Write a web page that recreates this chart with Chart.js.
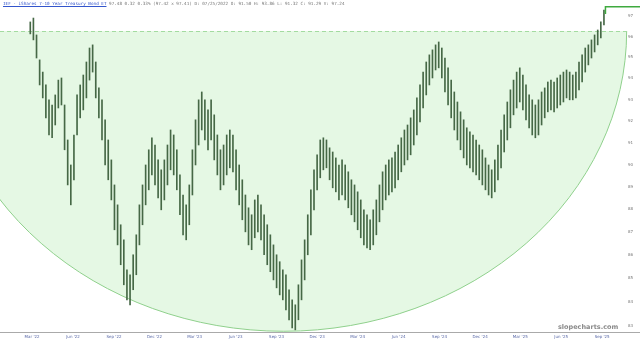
<!DOCTYPE html>
<html>
<head>
<meta charset="utf-8">
<script src="https://cdn.jsdelivr.net/npm/chart.js@4.4.1/dist/chart.umd.min.js"></script>
<style>
  html, body { margin: 0; padding: 0; background: #fff; }
  #wrap { position: relative; width: 640px; height: 343px; }
  #title { position: absolute; left: 3px; top: 1px; font: 4.3px 'DejaVu Sans Mono', monospace; color: #777; white-space: pre; }
  #title span { color: #3355cc; text-decoration: underline; }
  #wm { position: absolute; left: 558px; top: 323px; font: bold 6.5px 'DejaVu Sans', sans-serif; color: #8a8a8a; }
</style>
</head>
<body>
<div id="wrap">
  <canvas id="c" width="640" height="343"></canvas>
  <div id="title"><span>IEF - iShares 7-10 Year Treasury Bond ET</span> 97.48 0.32 0.33% (97.42 x 97.41) D: 07/25/2022 O: 91.50 H: 93.86 L: 91.32 C: 91.29 V: 97.24</div>
  <div id="wm">slopecharts.com</div>
</div>
<script>
const DAY = 86400000;
const ORIGIN = Date.UTC(2022, 2, 1);
const FIRST_WEEK = Date.UTC(2022, 1, 25);

// weekly high / low
const highs = [
  96.71,96.90,96.08,94.88,94.30,93.69,92.99,92.75,93.22,93.92,
  94.02,92.75,91.13,89.99,91.36,93.22,93.69,94.16,94.78,95.45,
  95.60,94.78,93.55,92.99,92.06,91.13,90.22,89.09,88.20,87.32,
  86.66,85.36,85.15,86.01,86.88,88.20,89.09,89.99,90.68,91.23,
  90.90,90.22,89.77,90.22,90.90,91.59,91.36,90.68,89.54,88.64,
  88.20,89.09,90.68,92.06,92.99,93.36,92.99,92.52,92.99,92.29,
  91.36,90.68,90.90,91.36,91.59,91.36,90.68,89.99,89.32,88.64,
  88.07,87.76,88.42,88.64,88.20,87.76,87.32,86.88,86.44,86.01,
  85.71,85.36,85.15,84.51,84.08,83.87,84.72,85.79,86.66,87.76,
  88.87,89.77,90.45,91.13,91.23,91.13,90.77,90.58,90.31,89.99,
  90.22,89.99,89.68,89.32,89.09,88.78,88.42,87.98,87.76,87.54,
  87.98,88.42,89.09,89.68,89.99,90.22,90.31,90.58,90.90,91.23,
  91.59,91.82,92.15,92.52,93.08,93.69,94.30,94.78,95.12,95.36,
  95.60,95.74,95.45,94.97,94.50,93.92,93.36,92.89,92.43,92.06,
  91.69,91.50,91.36,91.13,90.90,90.68,90.31,89.99,89.77,90.22,
  90.90,91.59,92.29,92.89,93.46,93.92,94.30,94.50,94.16,93.69,
  93.22,92.99,92.75,92.99,93.36,93.55,93.83,93.92,93.83,94.02,
  94.16,94.30,94.40,94.30,94.16,94.30,94.78,95.12,95.45,95.60,
  95.84,96.08,96.32,96.71,97.29
];
const lows = [
  96.13,95.84,94.97,93.69,93.08,92.15,91.36,91.23,91.82,92.61,
  92.75,90.68,89.09,88.20,89.32,91.36,92.15,92.52,93.08,93.92,
  94.30,93.08,92.15,91.13,89.99,89.32,88.42,87.10,86.44,85.58,
  84.72,84.08,83.87,84.51,85.15,86.44,87.32,88.20,88.87,89.54,
  89.09,88.51,87.98,88.42,89.09,89.77,89.54,88.87,87.76,86.88,
  86.66,87.32,88.64,89.99,90.90,91.59,91.13,90.68,91.13,90.22,
  89.54,88.87,89.09,89.54,89.86,89.68,88.87,88.20,87.54,87.01,
  86.44,86.23,86.75,87.01,86.66,86.01,85.58,85.28,84.93,84.59,
  84.29,84.08,83.66,83.24,82.90,82.82,83.24,84.08,84.93,86.01,
  86.88,87.98,88.87,89.41,89.77,89.86,89.32,88.96,88.78,88.42,
  88.64,88.42,88.07,87.76,87.45,87.10,86.75,86.44,86.31,86.23,
  86.44,86.88,87.45,87.98,88.42,88.64,88.78,88.96,89.32,89.68,
  89.99,90.22,90.45,90.90,91.36,91.96,92.61,93.22,93.69,94.02,
  94.40,94.50,94.02,93.36,92.75,92.15,91.59,91.13,90.68,90.31,
  89.99,89.86,89.68,89.54,89.32,89.09,88.87,88.64,88.51,88.78,
  89.32,89.86,90.58,91.13,91.69,92.29,92.61,92.89,92.52,92.06,
  91.69,91.36,91.23,91.36,91.82,92.15,92.43,92.52,92.43,92.61,
  92.75,92.89,93.08,92.99,92.99,93.08,93.46,93.83,94.30,94.64,
  94.97,95.26,95.60,95.93,96.56
];

const tickDates  = ['2022-03-01','2022-06-01','2022-09-01','2022-12-01','2023-03-01','2023-06-01','2023-09-01','2023-12-01',
                    '2024-03-01','2024-06-01','2024-09-01','2024-12-01','2025-03-01','2025-06-01','2025-09-01'];
const tickLabels = ["Mar '22","Jun '22","Sep '22","Dec '22","Mar '23","Jun '23","Sep '23","Dec '23",
                    "Mar '24","Jun '24","Sep '24","Dec '24","Mar '25","Jun '25","Sep '25"];
const priceTicks = [83,84,85,86,87,88,89,90,91,92,93,94,95,96,97];

// cup drawn on the chart: flat top at the old high, bowl down to the 2023 low
const cupTop = 96.27;
const cupBottom = 82.76;
const cupCenter = '2023-09-17';
const cupHalfDays = 770;
const lastPrice = 97.45;

const dayOf = s => (Date.parse(s + 'T00:00:00Z') - ORIGIN) / DAY;
const weekX = highs.map((_, i) => (FIRST_WEEK + i * 7 * DAY - ORIGIN) / DAY);
const tickX = tickDates.map(dayOf);

const cupPlugin = {
  id: 'cup',
  beforeDatasetsDraw(chart) {
    const { ctx, chartArea: a, scales: { x, y } } = chart;
    const cx = x.getPixelForValue(dayOf(cupCenter));
    const rx = x.getPixelForValue(dayOf(cupCenter) + cupHalfDays) - cx;
    const cy = y.getPixelForValue(cupTop);
    const ry = y.getPixelForValue(cupBottom) - cy;
    ctx.save();
    ctx.beginPath(); ctx.rect(a.left, a.top, a.right - a.left, a.bottom - a.top); ctx.clip();
    ctx.beginPath();
    ctx.ellipse(cx, cy, rx, ry, 0, 0, Math.PI);
    ctx.closePath();
    ctx.fillStyle = '#e5f8e4';
    ctx.fill();
    ctx.beginPath();
    ctx.ellipse(cx, cy, rx, ry, 0, 0, Math.PI);
    ctx.strokeStyle = '#8fd08c'; ctx.lineWidth = 1;
    ctx.stroke();
    ctx.setLineDash([4, 3]);
    ctx.strokeStyle = '#a3dba0';
    ctx.beginPath(); ctx.moveTo(a.left, Math.round(cy) + 0.5); ctx.lineTo(cx + rx, Math.round(cy) + 0.5); ctx.stroke();
    ctx.restore();
  },
  afterDraw(chart) {
    const { ctx, scales: { x, y } } = chart;
    const lx = x.getPixelForValue(weekX[weekX.length - 1]) + 1.5;
    const ly = y.getPixelForValue(lastPrice);
    const hy = y.getPixelForValue(highs[highs.length - 1]);
    ctx.save();
    ctx.strokeStyle = '#3faa3f'; ctx.lineWidth = 1.5;
    ctx.beginPath(); ctx.moveTo(lx, hy + 4); ctx.lineTo(lx, ly); ctx.lineTo(chart.width, ly); ctx.stroke();
    ctx.strokeStyle = '#aaaaaa'; ctx.lineWidth = 1;
    const by = Math.round(chart.chartArea.bottom) + 0.5;
    ctx.beginPath(); ctx.moveTo(0, by); ctx.lineTo(chart.width, by); ctx.stroke();
    ctx.restore();
  }
};

new Chart(document.getElementById('c'), {
  type: 'bar',
  data: {
    datasets: [{
      label: 'IEF',
      data: highs.map((h, i) => ({ x: weekX[i], y: [lows[i], h] })),
      backgroundColor: '#466846',
      barThickness: 1,
      grouped: false
    }]
  },
  options: {
    responsive: false,
    animation: false,
    layout: { padding: 0 },
    plugins: { legend: { display: false }, tooltip: { enabled: false } },
    scales: {
      x: {
        type: 'linear',
        offset: false,
        min: -72, max: 1338,
        grid: { display: false, drawTicks: false },
        border: { display: false },
        afterFit: s => { s.height = 11; },
        afterBuildTicks: s => { s.ticks = tickX.map(v => ({ value: v })); },
        ticks: {
          autoSkip: false, maxRotation: 0, padding: 3,
          font: { size: 4, family: 'DejaVu Sans' }, color: '#5b6aa8',
          callback: v => tickLabels[tickX.indexOf(v)]
        }
      },
      y: {
        type: 'logarithmic',
        position: 'right',
        min: 82.73, max: 97.78,
        grid: { display: false, drawTicks: false },
        border: { display: false },
        afterFit: s => { s.width = 12; },
        afterBuildTicks: s => { s.ticks = priceTicks.map(v => ({ value: v })); },
        ticks: {
          autoSkip: false, padding: 0, crossAlign: 'center',
          font: { size: 4, family: 'DejaVu Sans', lineHeight: 0.05 }, color: '#777',
          callback: v => String(v)
        }
      }
    }
  },
  plugins: [cupPlugin]
});
</script>
</body>
</html>
